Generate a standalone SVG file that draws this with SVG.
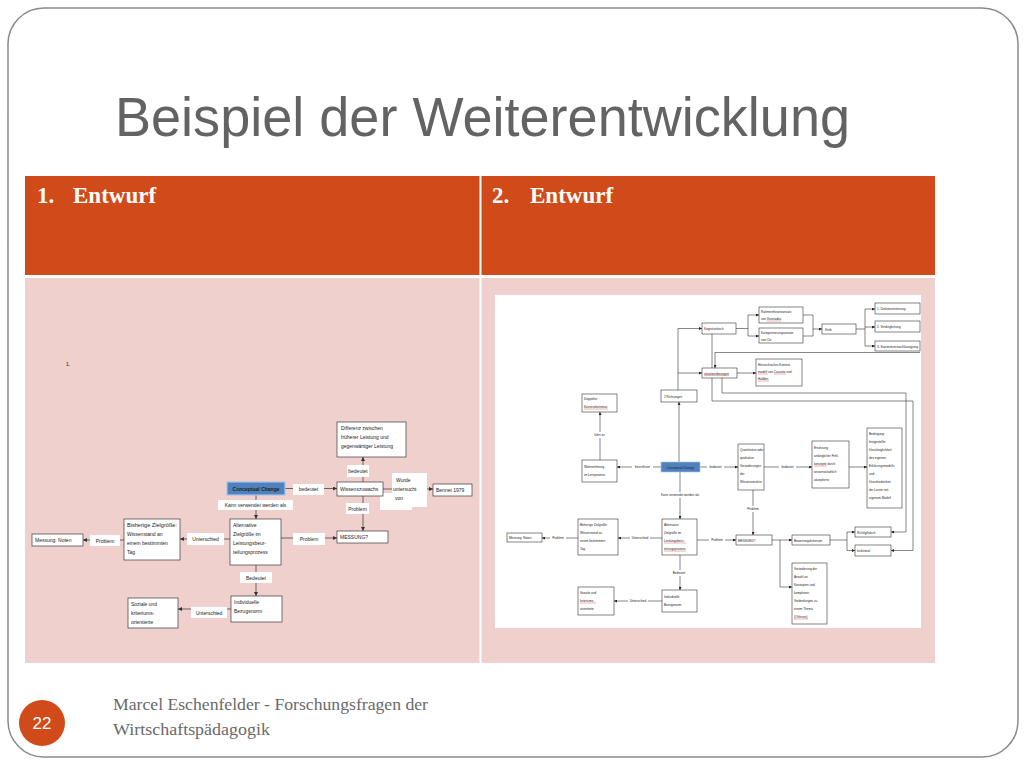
<svg xmlns="http://www.w3.org/2000/svg" width="1024" height="768" viewBox="0 0 1024 768">
<style>
.bx{fill:#fff;stroke:#3a3a3a;stroke-width:0.7}
.bxr{fill:#fff;stroke:#222;stroke-width:0.55}
.ln{fill:none;stroke:#333;stroke-width:0.7}
.lnr{fill:none;stroke:#222;stroke-width:0.55}
.lb{fill:#fff}
.t5{font-family:"Liberation Sans",Arial,sans-serif;font-size:5px;fill:#222}
.t3{font-family:"Liberation Sans",Arial,sans-serif;font-size:3.1px;fill:#222}
.c{text-anchor:middle}
.ul{stroke:#d02020;stroke-width:0.35}
.hd{font-family:"Liberation Serif","Times New Roman",serif;font-size:23px;font-weight:bold;fill:#fff}
.ft{font-family:"Liberation Serif","Times New Roman",serif;font-size:16px;fill:#6a6a6a}
</style>
<defs>
<marker id="al" markerUnits="userSpaceOnUse" markerWidth="4" markerHeight="4" refX="4" refY="2" orient="auto"><path d="M0,0 L4,2 L0,4 z" fill="#333"/></marker>
<marker id="ar" markerUnits="userSpaceOnUse" markerWidth="3" markerHeight="3" refX="3" refY="1.5" orient="auto"><path d="M0,0 L3,1.5 L0,3 z" fill="#222"/></marker>
</defs>

<!-- slide frame -->
<rect x="0" y="0" width="1024" height="768" fill="#fff"/>
<rect x="8" y="8" width="1010" height="749" rx="36" ry="36" fill="#fff" stroke="#8a8a8a" stroke-width="1.5"/>

<!-- title -->
<text x="115" y="136" font-family="'Liberation Sans',Arial,sans-serif" font-size="55" fill="#636363" textLength="735" lengthAdjust="spacingAndGlyphs">Beispiel der Weiterentwicklung</text>

<!-- table -->
<g id="table">
<rect x="25" y="176" width="910" height="99" fill="#D14A1A"/>
<rect x="25" y="278" width="910" height="385" fill="#EFD0CC"/>
<line x1="480.5" y1="176" x2="480.5" y2="663" stroke="#fff" stroke-width="2"/>
<text class="hd" x="37" y="203">1.</text>
<text class="hd" x="73" y="203">Entwurf</text>
<text class="hd" x="492" y="203">2.</text>
<text class="hd" x="530" y="203">Entwurf</text>
</g>

<!-- ===== LEFT DIAGRAM ===== -->
<text class="t5" x="66" y="366" font-size="4">1.</text>
<g id="left-connectors">
<path class="ln" d="M285,488.5 H337" marker-end="url(#al)"/>
<path class="ln" d="M363,482 V457" marker-end="url(#al)"/>
<path class="ln" d="M383,489 H433" marker-end="url(#al)"/>
<path class="ln" d="M363,496 V531" marker-end="url(#al)"/>
<path class="ln" d="M256,495 V519" marker-end="url(#al)"/>
<path class="ln" d="M281,538 H337" marker-end="url(#al)"/>
<path class="ln" d="M230,539 H180" marker-end="url(#al)"/>
<path class="ln" d="M124,540 H83" marker-end="url(#al)"/>
<path class="ln" d="M256,565 V596" marker-end="url(#al)"/>
<path class="ln" d="M231,609 H178" marker-end="url(#al)"/>
<rect class="lb" x="293" y="484" width="31" height="11"/><text class="t5 c" x="308.5" y="491">bedeutet</text>
<rect class="lb" x="347" y="465" width="22" height="12"/><text class="t5 c" x="358" y="473">bedeutet</text>
<rect class="lb" x="392" y="473" width="35" height="34"/><rect class="lb" x="380" y="493" width="32" height="17"/>
<text class="t5" x="396" y="482">Wurde</text><text class="t5" x="393" y="491">untersucht</text><text class="t5" x="395" y="500">von</text>
<rect class="lb" x="346" y="503" width="23" height="11"/><text class="t5 c" x="357.5" y="510.5">Problem</text>
<rect class="lb" x="218" y="500" width="75" height="10"/><text class="t5 c" x="255.5" y="507">Kann verwendet werden als</text>
<rect class="lb" x="293" y="533" width="32" height="12"/><text class="t5 c" x="309" y="541">Problem</text>
<rect class="lb" x="187" y="533" width="37" height="12"/><text class="t5 c" x="205.5" y="541">Unterschied</text>
<rect class="lb" x="90" y="535" width="30" height="11"/><text class="t5 c" x="105" y="542.5">Problem</text>
<rect class="lb" x="240" y="572" width="32" height="11"/><text class="t5 c" x="256" y="579.5">Bedeutet</text>
<rect class="lb" x="191" y="607" width="36" height="11"/><text class="t5 c" x="209" y="614.5">Unterschied</text>
</g>
<g id="l-differenz"><rect class="bx" x="337" y="422" width="69" height="35"/>
<text class="t5" x="341" y="430">Differenz zwischen</text><text class="t5" x="341" y="439">früherer Leistung und</text><text class="t5" x="341" y="448">gegenwärtiger Leistung</text></g>
<g id="l-cc"><rect x="227" y="482" width="58" height="13" fill="#4F81BD" stroke="#A9C4E8" stroke-width="1.2"/>
<text class="t5 c" x="256" y="490.5" font-weight="bold" fill="#13233f">Conceptual Change</text></g>
<g id="l-wissen"><rect class="bx" x="337" y="482" width="46" height="14"/><text class="t5" x="340" y="491">Wissenszuwachs</text></g>
<g id="l-bennet"><rect class="bx" x="433" y="484" width="39" height="12"/><text class="t5" x="436" y="492">Bennet 1979</text></g>
<g id="l-messung"><rect class="bx" x="337" y="531" width="51" height="12"/><text class="t5" x="340" y="539">MESSUNG?</text></g>
<g id="l-alt"><rect class="bx" x="230" y="519" width="51" height="46"/>
<text class="t5" x="233" y="527">Alternative</text><text class="t5" x="233" y="536">Zielgröße im</text><text class="t5" x="233" y="545">Leistungsbeur-</text><text class="t5" x="233" y="554">teilungsprozess</text></g>
<g id="l-bisher"><rect class="bx" x="124" y="519" width="56" height="41"/>
<text class="t5" x="127" y="527" textLength="50" lengthAdjust="spacingAndGlyphs">Bisherige Zielgröße:</text><text class="t5" x="127" y="536">Wissenstand an</text><text class="t5" x="127" y="545">einem bestimmten</text><text class="t5" x="127" y="554">Tag</text></g>
<g id="l-noten"><rect class="bx" x="32" y="534" width="51" height="12"/><text class="t5" x="35" y="542">Messung: Noten</text></g>
<g id="l-indiv"><rect class="bx" x="231" y="596" width="51" height="26"/>
<text class="t5" x="234" y="604">Individuelle</text><text class="t5" x="234" y="613">Bezugsnorm</text></g>
<g id="l-soziale"><rect class="bx" x="128" y="598" width="50" height="30"/>
<text class="t5" x="131" y="606">Soziale und</text><text class="t5" x="131" y="615">kriteriums-</text><text class="t5" x="131" y="624">orientierte</text></g>

<!-- ===== RIGHT DIAGRAM ===== -->
<rect x="495" y="295" width="426" height="333" fill="#fff"/>
<g id="right-connectors">
<path class="lnr" d="M679,462 V402" marker-end="url(#ar)"/>
<path class="lnr" d="M678,390 V328.5 H702" marker-end="url(#ar)"/>
<path class="lnr" d="M678,373 H702" marker-end="url(#ar)"/>
<path class="lnr" d="M736,328.5 H748 M748,315 V336"/>
<path class="lnr" d="M748,315 H759" marker-end="url(#ar)"/>
<path class="lnr" d="M748,336 H759" marker-end="url(#ar)"/>
<path class="lnr" d="M803,315 H813 V336 M803,336 H813"/>
<path class="lnr" d="M813,329 H822" marker-end="url(#ar)"/>
<path class="lnr" d="M856,329 H865 M865,309 V346"/>
<path class="lnr" d="M865,309 H875" marker-end="url(#ar)"/>
<path class="lnr" d="M865,327 H875" marker-end="url(#ar)"/>
<path class="lnr" d="M865,346 H875" marker-end="url(#ar)"/>
<path class="lnr" d="M920,352.5 H715 V368" marker-end="url(#ar)"/>
<path class="lnr" d="M737,373 H756" marker-end="url(#ar)"/>
<path class="lnr" d="M712,334 V401 H913 V550.5 H891" marker-end="url(#ar)"/>
<path class="lnr" d="M722,378 V393 H906 V532 H891" marker-end="url(#ar)"/>
<path class="lnr" d="M661,467 H617" marker-end="url(#ar)"/>
<path class="lnr" d="M700,467 H738" marker-end="url(#ar)"/>
<path class="lnr" d="M764,467 H812" marker-end="url(#ar)"/>
<path class="lnr" d="M849,467 H867" marker-end="url(#ar)"/>
<path class="lnr" d="M600,460 V412" marker-end="url(#ar)"/>
<path class="lnr" d="M680,472 V519" marker-end="url(#ar)"/>
<path class="lnr" d="M662,538 H618" marker-end="url(#ar)"/>
<path class="lnr" d="M578,538 H542" marker-end="url(#ar)"/>
<path class="lnr" d="M697,540 H736" marker-end="url(#ar)"/>
<path class="lnr" d="M753,490 V535" marker-end="url(#ar)"/>
<path class="lnr" d="M772,540 H792" marker-end="url(#ar)"/>
<path class="lnr" d="M780,540 V587 H792" marker-end="url(#ar)"/>
<path class="lnr" d="M830,540 H847 M847,532 V550.5"/>
<path class="lnr" d="M847,532 H855" marker-end="url(#ar)"/>
<path class="lnr" d="M847,550.5 H855" marker-end="url(#ar)"/>
<path class="lnr" d="M680,555 V590" marker-end="url(#ar)"/>
<path class="lnr" d="M662,601 H614" marker-end="url(#ar)"/>
<rect class="lb" x="632" y="464" width="21" height="5"/><text class="t3 c" x="642.5" y="468">beeinflusst</text>
<rect class="lb" x="707" y="464" width="17" height="5"/><text class="t3 c" x="715.5" y="468">bedeutet</text>
<rect class="lb" x="779" y="464" width="17" height="5"/><text class="t3 c" x="787.5" y="468">bedeutet</text>
<rect class="lb" x="591" y="432" width="17" height="6"/><text class="t3 c" x="599.5" y="436">führt zu</text>
<rect class="lb" x="656" y="492" width="48" height="6"/><text class="t3 c" x="680" y="496">Kann verwendet werden als</text>
<rect class="lb" x="630" y="535" width="20" height="6"/><text class="t3 c" x="640" y="539">Unterschied</text>
<rect class="lb" x="550" y="535" width="16" height="6"/><text class="t3 c" x="558" y="539">Problem</text>
<rect class="lb" x="709" y="537" width="16" height="6"/><text class="t3 c" x="717" y="541">Problem</text>
<rect class="lb" x="745" y="506" width="16" height="6"/><text class="t3 c" x="753" y="510">Problem</text>
<rect class="lb" x="671" y="570" width="17" height="6"/><text class="t3 c" x="679" y="574">Bedeutet</text>
<rect class="lb" x="628" y="598" width="20" height="6"/><text class="t3 c" x="638" y="602">Unterschied</text>
</g>
<g id="r-doppelter"><rect class="bxr" x="582" y="394" width="35" height="18"/>
<text class="t3" x="584" y="400">Doppelter</text><text class="t3" x="584" y="408">Konstruktivismus</text><line class="ul" x1="584" y1="409" x2="608" y2="409"/></g>
<g id="r-richtungen"><rect class="bxr" x="661" y="390" width="36" height="12"/><text class="t3" x="664" y="397.5">2 Richtungen</text></g>
<g id="r-kogn"><rect class="bxr" x="702" y="323" width="34" height="11"/><text class="t3" x="704" y="330">Kognitivistisch</text></g>
<g id="r-rahmen"><rect class="bxr" x="759" y="307" width="44" height="16"/>
<text class="t3" x="761" y="313">Rahmentheorieansatz</text><text class="t3" x="761" y="320">von Vosniadou</text><line class="ul" x1="766.5" y1="321" x2="781" y2="321"/></g>
<g id="r-kateg"><rect class="bxr" x="759" y="328" width="44" height="15"/>
<text class="t3" x="761" y="334">Kategorisierungsansatz</text><text class="t3" x="761" y="341">von Chi</text></g>
<g id="r-kritik"><rect class="bxr" x="822" y="324" width="34" height="10"/><text class="t3" x="825" y="330.5">Kritik</text></g>
<g id="r-defizit"><rect class="bxr" x="875" y="303" width="45" height="11"/><text class="t3" x="877" y="310">1. Defizitorientierung</text></g>
<g id="r-verding"><rect class="bxr" x="875" y="321" width="45" height="11"/><text class="t3" x="877" y="328">2. Verdinglichung</text></g>
<g id="r-kontext"><rect class="bxr" x="875" y="341" width="45" height="10"/><text class="t3" x="877" y="347.5" textLength="41" lengthAdjust="spacingAndGlyphs">3. Kontextvernachlässigung</text></g>
<g id="r-situ"><rect class="bxr" x="702" y="368" width="35" height="10"/><text class="t3" x="704" y="374.5">situationsbezogen</text><line class="ul" x1="704" y1="375.5" x2="729" y2="375.5"/></g>
<g id="r-hier"><rect class="bxr" x="756" y="359" width="46" height="27"/>
<text class="t3" x="758" y="366">Hierarchisches Kontext-</text><text class="t3" x="758" y="373">modell von Caravita und</text><text class="t3" x="758" y="380">Halldén</text>
<line class="ul" x1="758" y1="374" x2="768" y2="374"/><line class="ul" x1="774" y1="374" x2="786" y2="374"/><line class="ul" x1="758" y1="381" x2="769" y2="381"/></g>
<g id="r-wahr"><rect class="bxr" x="582" y="460" width="35" height="22"/>
<text class="t3" x="584" y="468">Wahrnehmung</text><text class="t3" x="584" y="476">im Lernprozess</text></g>
<g id="r-cc"><rect x="661" y="462" width="39" height="10" fill="#4F81BD" stroke="#A9C4E8" stroke-width="0.7"/>
<text class="t3 c" x="680.5" y="468.5" fill="#13233f">Conceptual Change</text></g>
<g id="r-quant"><rect class="bxr" x="738" y="444" width="26" height="46"/>
<text class="t3" x="740" y="451">Quantitative oder</text><text class="t3" x="740" y="459">qualitative</text><text class="t3" x="740" y="467">Veränderungen</text><text class="t3" x="740" y="475">der</text><text class="t3" x="740" y="483">Wissensstruktur</text></g>
<g id="r-ersetz"><rect class="bxr" x="812" y="441" width="37" height="47"/>
<text class="t3" x="814" y="449">Ersetzung</text><text class="t3" x="814" y="457">anfänglicher Fehl-</text><text class="t3" x="814" y="465">konzepte durch</text><text class="t3" x="814" y="473">wissenschaftlich</text><text class="t3" x="814" y="481">akzeptierte</text>
<line class="ul" x1="814" y1="466" x2="827" y2="466"/></g>
<g id="r-beding"><rect class="bxr" x="867" y="428" width="35" height="80"/>
<text class="t3" x="869" y="435">Bedingung:</text><text class="t3" x="869" y="443">festgestellte</text><text class="t3" x="869" y="451">Unzulänglichkeit</text><text class="t3" x="869" y="459">des eigenen</text><text class="t3" x="869" y="467">Erklärungsmodells</text><text class="t3" x="869" y="475">und</text><text class="t3" x="869" y="483">Unzufriedenheit</text><text class="t3" x="869" y="491">der Lerner mit</text><text class="t3" x="869" y="499">eigenem Modell</text></g>
<g id="r-alt"><rect class="bxr" x="662" y="519" width="35" height="36"/>
<text class="t3" x="664" y="526">Alternative</text><text class="t3" x="664" y="534">Zielgröße im</text><text class="t3" x="664" y="542">Leistungsbeur-</text><text class="t3" x="664" y="550">teilungsprozess</text>
<line class="ul" x1="664" y1="543" x2="686" y2="543"/><line class="ul" x1="664" y1="551" x2="686" y2="551"/></g>
<g id="r-bisher"><rect class="bxr" x="578" y="519" width="40" height="36"/>
<text class="t3" x="580" y="526">Bisherige Zielgröße:</text><text class="t3" x="580" y="534">Wissenstand an</text><text class="t3" x="580" y="542">einem bestimmten</text><text class="t3" x="580" y="550">Tag</text></g>
<g id="r-noten"><rect class="bxr" x="507" y="533" width="35" height="9"/><text class="t3" x="509" y="539">Messung: Noten</text></g>
<g id="r-indiv"><rect class="bxr" x="662" y="590" width="35" height="22"/>
<text class="t3" x="664" y="598">Individuelle</text><text class="t3" x="664" y="606">Bezugsnorm</text></g>
<g id="r-soziale"><rect class="bxr" x="578" y="587" width="36" height="28"/>
<text class="t3" x="580" y="594">Soziale und</text><text class="t3" x="580" y="602">kriteriums-</text><text class="t3" x="580" y="610">orientierte</text><line class="ul" x1="580" y1="603" x2="596" y2="603"/></g>
<g id="r-messung"><rect class="bxr" x="736" y="535" width="36" height="10"/><text class="t3" x="738" y="541.5">MESSUNG?</text></g>
<g id="r-bewert"><rect class="bxr" x="792" y="535" width="38" height="10"/><text class="t3" x="794" y="541.5">Bewertungskriterium</text></g>
<g id="r-richtig"><rect class="bxr" x="855" y="527" width="36" height="10"/><text class="t3" x="857" y="533.5">Richtig/falsch</text></g>
<g id="r-funkt"><rect class="bxr" x="855" y="545" width="36" height="11"/><text class="t3" x="857" y="552">funktional</text></g>
<g id="r-veraend"><rect class="bxr" x="792" y="563" width="35" height="61"/>
<text class="t3" x="794" y="570">Veränderung der</text><text class="t3" x="794" y="578">Anzahl an</text><text class="t3" x="794" y="586">Konzepten und</text><text class="t3" x="794" y="594">komplexen</text><text class="t3" x="794" y="602">Verbindungen zu</text><text class="t3" x="794" y="610">einem Thema</text><text class="t3" x="794" y="618">(Ohlsson)</text>
<line class="ul" x1="794" y1="619" x2="808" y2="619"/></g>

<!-- footer -->
<g id="footer">
<circle cx="42" cy="723" r="23" fill="#D14A1A"/>
<text x="42" y="729" text-anchor="middle" font-family="'Liberation Sans',Arial,sans-serif" font-size="17" fill="#fff">22</text>
<text class="ft" x="113" y="710" textLength="315" lengthAdjust="spacingAndGlyphs">Marcel Eschenfelder - Forschungsfragen der</text>
<text class="ft" x="113" y="735" textLength="157" lengthAdjust="spacingAndGlyphs">Wirtschaftspädagogik</text>
</g>
</svg>
